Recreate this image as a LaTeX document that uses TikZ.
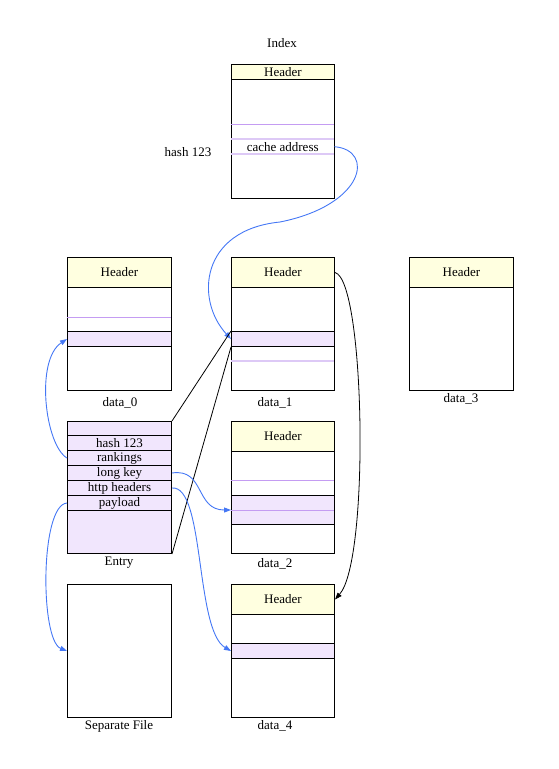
\documentclass[tikz,border=0pt]{standalone}
\usepackage{fontspec}
\setmainfont{Liberation Serif}
\usetikzlibrary{arrows.meta}
\definecolor{hdrfill}{HTML}{FFFFE0}
\definecolor{slotfill}{HTML}{F1E6FD}
\definecolor{pline}{HTML}{C49CF2}
\definecolor{lpline}{HTML}{DDC9F6}
\definecolor{linkblue}{HTML}{4477F5}
\tikzset{
  blk/.style={draw, line width=1pt, anchor=north west, inner sep=0pt, minimum width=103pt},
  hdr/.style={blk, fill=hdrfill, minimum height=30pt},
  slot/.style={blk, fill=slotfill, minimum height=15pt},
  row/.style={anchor=north west, inner sep=0pt, minimum width=103pt, minimum height=15pt},
  lbl/.style={inner sep=0pt},
  link/.style={linkblue, line width=0.9pt, -{Triangle[length=7pt,width=5pt]}},
  ptr/.style={line width=0.8pt},
}
\begin{document}
\begin{tikzpicture}[x=1pt,y=-1pt,font=\fontsize{13}{15}\selectfont]
    \useasboundingbox (0,0) rectangle (558,769);
    % Index file
    \node[lbl] (idxname) at (282,43) {Index};
    \node[blk, minimum height=134pt, fill=white] (idx) at (231,64) {};
    \node[hdr, minimum height=15pt] (idxh) at (231,64) {Header};
    \draw[pline] (231,124) -- (334,124);
    \node[row] (idxc) at (231,139) {cache address};
    \draw[lpline, line width=1.5pt] (idxc.north west) -- (idxc.north east);
    \draw[lpline, line width=2pt] (idxc.south west) -- (idxc.south east);
    \node[lbl] (hash) at (188,152) {hash 123};
    % data_0
    \node[blk, minimum width=104pt, minimum height=133pt] (d0) at (67,257) {};
    \node[hdr, minimum width=104pt] (d0h) at (67,257) {Header};
    \draw[pline] (67,317) -- (171,317);
    \node[slot, minimum width=104pt] (d0s) at (67,331) {};
    \node[lbl] (d0name) at (120,403) {data\_0};
    % data_1
    \node[blk, minimum height=133pt] (d1) at (231,257) {};
    \node[hdr] (d1h) at (231,257) {Header};
    \node[slot] (d1s) at (231,331) {};
    \draw[lpline, line width=1.5pt] (231,361) -- (334,361);
    \node[lbl] (d1name) at (275,403) {data\_1};
    % data_3
    \node[blk, minimum width=104pt, minimum height=133pt] (d3) at (409,257) {};
    \node[hdr, minimum width=104pt] (d3h) at (409,257) {Header};
    \node[lbl] (d3name) at (461,399) {data\_3};
    % Entry
    \node[blk, minimum width=104pt, minimum height=132pt, fill=slotfill] (ent) at (67,421) {};
    \foreach \t/\n [count=\i] in {hash 123/ehash, rankings/erank, long key/ekey, http headers/ehttp, payload/epay}
        \node[slot, minimum width=104pt] (\n) at (67,{420+15*\i}) {\t};
    \node[lbl] (entname) at (119,563) {Entry};
    % data_2
    \node[blk, minimum height=132pt] (d2) at (231,421) {};
    \node[hdr] (d2h) at (231,421) {Header};
    \draw[pline] (231,480) -- (334,480);
    \node[slot, minimum height=29pt] (d2s) at (231,495) {};
    \draw[pline] (231,510) -- (334,510);
    \node[lbl] (d2name) at (275,564) {data\_2};
    % Separate File
    \node[blk, minimum width=104pt, minimum height=133pt] (sep) at (67,584) {};
    \node[lbl] (sepname) at (119,726) {Separate File};
    % data_4
    \node[blk, minimum height=133pt] (d4) at (231,584) {};
    \node[hdr] (d4h) at (231,584) {Header};
    \node[slot] (d4s) at (231,643) {};
    \node[lbl] (d4name) at (275,726) {data\_4};
    % Links
    \draw[link] (idxc.east) .. controls (375,150) and (365,205) .. (280,222)
        .. controls (200,230) and (195,300) .. (d1s.west);
    \draw[link] (erank.west) .. controls (45,445) and (35,360) .. (d0s.west);
    \draw[ptr] (ent.north east) -- (d1s.north west);
    \draw[ptr] (ent.south east) -- (d1s.south west);
    \draw[ptr, -{Triangle[length=7pt,width=5pt]}] (d1h.east) .. controls (365,280) and (370,560) .. (d4h.east);
    \draw[link] (ekey.east) .. controls (205,468) and (195,510) .. (d2s.west);
    \draw[link] (ehttp.east) .. controls (205,485) and (195,630) .. (d4s.west);
    \draw[link] (epay.west) .. controls (40,505) and (40,640) .. (sep.west);
\end{tikzpicture}
\end{document}
